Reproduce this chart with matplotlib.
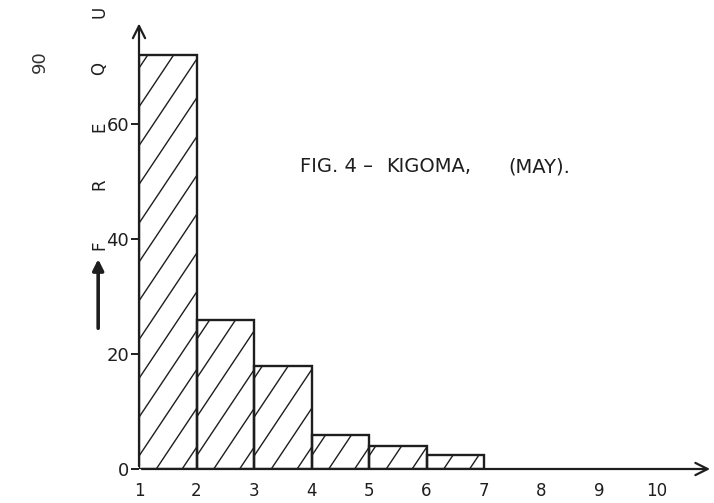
import numpy as np
import matplotlib
matplotlib.use("Agg")
import matplotlib.pyplot as plt

# class limits and frequencies
class_left = [1, 2, 3, 4, 5, 6]
freq = [72, 26, 18, 6, 4, 2.5]
x_ticks = [1, 2, 3, 4, 5, 6, 7, 8, 9, 10]
y_ticks = [0, 20, 40, 60]
ylabel_letters = ["F", "R", "E", "Q", "U"]
ylabel_pos = [39, 49.5, 59.5, 69.7, 79.5]
title_words = ["FIG. 4 –", "KIGOMA,", "(MAY)."]
title_x = [3.80, 5.30, 7.42]

ink = "#1e1e1e"

fig = plt.figure(figsize=(7.14, 5.03), dpi=100)
ax = fig.add_axes([139 / 714, 34 / 503, 575 / 714, 469 / 503])
ax.set_xlim(1, 11)
ax.set_ylim(0, 81.6)

bars = ax.bar(class_left, freq, width=1, align="edge", fill=False,
              edgecolor=ink, linewidth=1.7)

# sparse hand-drawn style diagonal hatching, clipped to each bar
slope = 15.0    # data units of y per unit of x (steep in pixels)
step = 0.45
for b in bars:
    left = b.get_x()
    for c in np.arange(-6, 1.2, step):
        xs = np.array([left + c, left + c + 6])
        ys = np.array([0, 6 * slope])
        ln, = ax.plot(xs, ys, color=ink, lw=1.0)
        ln.set_clip_path(b)

for s in ax.spines.values():
    s.set_visible(False)

# axes with arrow heads
ax.annotate("", xy=(10.98, 0), xytext=(1, 0),
            arrowprops=dict(arrowstyle="->", color=ink, lw=1.6,
                            mutation_scale=22), annotation_clip=False)
ax.annotate("", xy=(1, 78), xytext=(1, 0),
            arrowprops=dict(arrowstyle="->", color=ink, lw=1.6,
                            mutation_scale=22), annotation_clip=False)

ax.set_xticks(x_ticks)
ax.set_xticklabels([str(v) for v in x_ticks], fontsize=12, color=ink)
ax.tick_params(axis="x", length=0, pad=9)
ax.set_yticks(y_ticks)
ax.set_yticklabels([str(v) for v in y_ticks], fontsize=13, color=ink)
ax.tick_params(axis="y", length=6, width=1.4, color=ink, pad=1)

# vertical axis caption, letter by letter
for letter, yp in zip(ylabel_letters, ylabel_pos):
    ax.text(0.31, yp, letter, rotation=90, fontsize=12, color=ink,
            ha="center", va="center", clip_on=False)
ax.annotate("", xy=(0.29, 37), xytext=(0.29, 24),
            arrowprops=dict(arrowstyle="-|>", color=ink, lw=2.6,
                            mutation_scale=16), annotation_clip=False)

ax.text(-0.72, 70.8, "90", rotation=90, fontsize=13, color="#333333",
        ha="center", va="center", clip_on=False)

for word, xp in zip(title_words, title_x):
    ax.text(xp, 51.6, word, fontsize=14, color=ink, ha="left", va="baseline")

fig.savefig("out.png", dpi=100, facecolor="white")
